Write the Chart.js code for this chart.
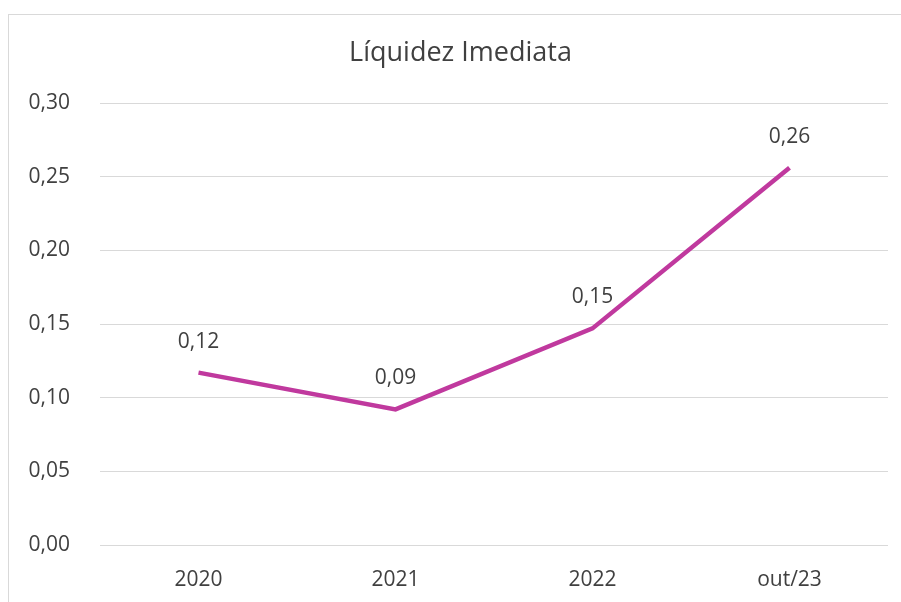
<!DOCTYPE html>
<html>
<head>
<meta charset="utf-8">
<script src="https://cdn.jsdelivr.net/npm/chart.js@4"></script>
<style>
  html, body { margin: 0; padding: 0; background: #fff; overflow: hidden; }
  #frame {
    position: absolute; left: 8px; top: 14px;
    width: 1000px; height: 700px;
    border: 1px solid #d9d9d9;
  }
  #wrap { position: absolute; left: 0; top: 0; width: 901px; height: 602px; }
</style>
</head>
<body>
<div id="frame"></div>
<div id="wrap"><canvas id="chart"></canvas></div>
<script>
// Liquidez imediata por período
const periods = ['2020', '2021', '2022', 'out/23'];
const liquidez = [0.117, 0.092, 0.147, 0.256];
const yTicks = [0, 0.05, 0.10, 0.15, 0.20, 0.25, 0.30];
const chartTitle = 'Líquidez Imediata';

const FONT = "'Open Sans', sans-serif";
const TEXT = '#404040';
const fmt = v => v.toFixed(2).replace('.', ',');

// Title is centred on the outer frame, not on the canvas
const frameTitle = {
  id: 'frameTitle',
  afterDraw(chart) {
    const ctx = chart.ctx;
    ctx.save();
    ctx.font = `27px ${FONT}`;
    ctx.fillStyle = TEXT;
    ctx.textAlign = 'center';
    ctx.textBaseline = 'middle';
    ctx.fillText(chartTitle, chart.width / 2 + 10, 53);
    ctx.restore();
  }
};

// Writes the value above each point
const pointLabels = {
  id: 'pointLabels',
  afterDatasetsDraw(chart) {
    const ctx = chart.ctx;
    const meta = chart.getDatasetMeta(0);
    ctx.save();
    ctx.font = `21px ${FONT}`;
    ctx.fillStyle = TEXT;
    ctx.textAlign = 'center';
    ctx.textBaseline = 'middle';
    meta.data.forEach((pt, i) => {
      ctx.fillText(fmt(liquidez[i]), pt.x, pt.y - 31);
    });
    ctx.restore();
  }
};

new Chart(document.getElementById('chart'), {
  type: 'line',
  data: {
    labels: periods,
    datasets: [{
      data: liquidez,
      borderColor: '#c0399e',
      borderWidth: 4.5,
      pointRadius: 0,
      tension: 0,
      fill: false
    }]
  },
  options: {
    responsive: true,
    maintainAspectRatio: false,
    animation: false,
    layout: { padding: { top: 103, right: 13, bottom: 0, left: 0 } },
    plugins: {
      legend: { display: false },
      tooltip: { enabled: false },
      title: { display: false }
    },
    scales: {
      x: {
        offset: true,
        grid: { display: false, drawTicks: false },
        border: { display: false },
        afterFit(scale) { scale.height = 57; },
        ticks: {
          color: TEXT,
          padding: 22,
          font: { family: FONT, size: 21 }
        }
      },
      y: {
        min: 0,
        max: 0.30,
        afterFit(scale) { scale.width = 100; },
        afterBuildTicks(scale) { scale.ticks = yTicks.map(v => ({ value: v })); },
        grid: { color: '#d9d9d9', lineWidth: 1, drawTicks: false },
        border: { display: false },
        ticks: {
          color: TEXT,
          padding: 30,
          font: { family: FONT, size: 21 },
          callback: v => fmt(v)
        }
      }
    }
  },
  plugins: [pointLabels, frameTitle]
});
</script>
</body>
</html>
